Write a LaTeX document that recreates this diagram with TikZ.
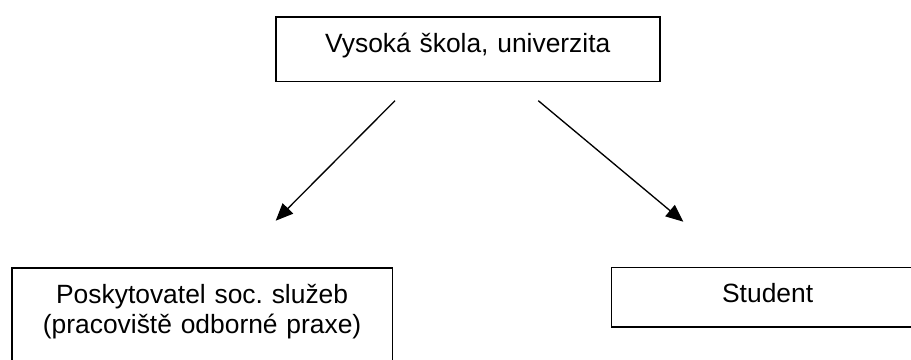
\documentclass[tikz,border=0pt]{standalone}
\usepackage{fontspec}
\setmainfont{Liberation Sans}
\usetikzlibrary{arrows.meta}

\begin{document}
\begin{tikzpicture}
[x=0.75pt,y=-0.75pt,%
  boxDecorate/.style={draw,line width=1.2pt,anchor=north west,inner xsep=0pt,inner ysep=0pt,align=center,text height=26.6pt,font=\fontsize{19.8}{22.8}\selectfont\frenchspacing},%
  arrowDecorate/.style={-{Triangle[length=13pt,width=11pt]},line width=1pt}]
%% page frame
\useasboundingbox (0,0) rectangle (911,360);
%% boxes
\node[boxDecorate,text width=288pt,text depth=22pt] (school) at (275,16) {Vysoká škola, univerzita};
\node[boxDecorate,text width=285.5pt,text depth=54pt] (provider) at (11,267) {Poskytovatel soc. služeb\\(pracoviště odborné praxe)};
\node[boxDecorate,text width=234.2pt,text depth=18pt] (student) at (610.7,266.7) {Student};
%% free ends of the arrows
\coordinate (schoolLeft) at (395,100.7);
\coordinate (schoolRight) at (538.3,100.7);
\coordinate (providerTip) at (275.7,220.7);
\coordinate (studentTip) at (683.3,221.7);
%% arrows
\foreach \from/\to in {schoolLeft/providerTip, schoolRight/studentTip}
  \draw[arrowDecorate] (\from) -- (\to);
\end{tikzpicture}
\end{document}
